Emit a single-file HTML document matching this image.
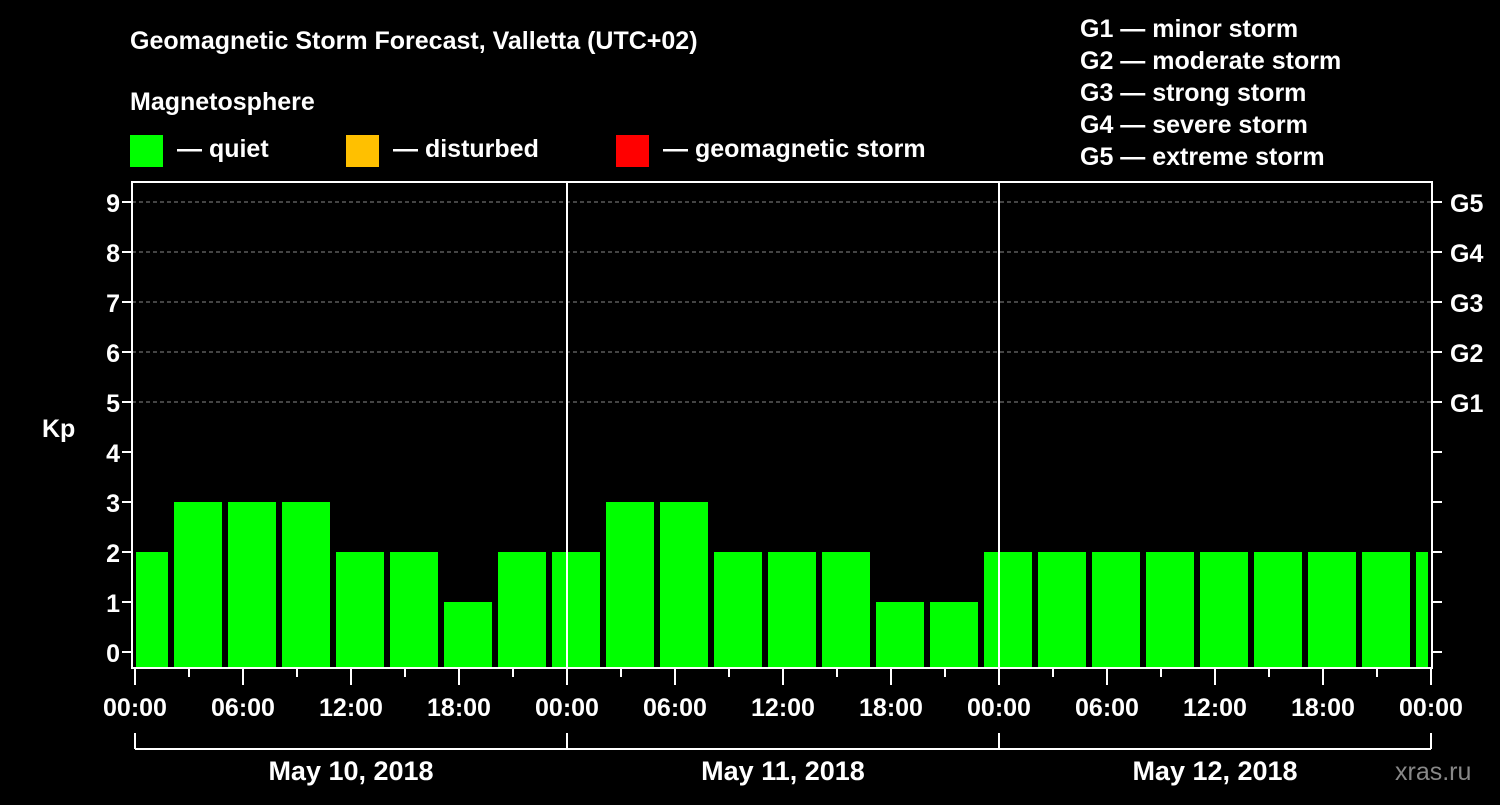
<!DOCTYPE html>
<html><head><meta charset="utf-8"><style>
body{margin:0;background:#000;}
svg text{font-family:"Liberation Sans",sans-serif;font-weight:bold;fill:#fff;}
</style></head><body>
<svg id="chart" width="1500" height="800" viewBox="0 0 1500 800">
<rect width="1500" height="800" fill="#000"/>
<text x="130" y="49" font-size="25">Geomagnetic Storm Forecast, Valletta (UTC+02)</text>
<text x="130" y="110" font-size="25">Magnetosphere</text>
<rect x="130" y="135" width="33" height="32" fill="#00ff00"/>
<text x="177" y="157" font-size="25">— quiet</text>
<rect x="346" y="135" width="33" height="32" fill="#ffc000"/>
<text x="393" y="157" font-size="25">— disturbed</text>
<rect x="616" y="135" width="33" height="32" fill="#ff0000"/>
<text x="663" y="157" font-size="25">— geomagnetic storm</text>
<g font-size="25">
<text x="1080" y="37">G1 — minor storm</text>
<text x="1080" y="69">G2 — moderate storm</text>
<text x="1080" y="101">G3 — strong storm</text>
<text x="1080" y="133">G4 — severe storm</text>
<text x="1080" y="165">G5 — extreme storm</text>
</g>
<text x="42" y="437" font-size="25">Kp</text>
<text x="1395" y="780" font-size="25" fill="#888" style="fill:#888;font-weight:normal">xras.ru</text>
<g id="grid"></g><g id="bars"></g><g id="axes"></g>
</svg>
<script>
const kpValues=[2,3,3,3,2,2,1,2,2,3,3,2,2,2,1,1,2,2,2,2,2,2,2,2,2];
const yTicks=[0,1,2,3,4,5,6,7,8,9];
const gLabels=["G1","G2","G3","G4","G5"];
const gLevels=[5,6,7,8,9];
const timeLabels=["00:00","06:00","12:00","18:00","00:00","06:00","12:00","18:00","00:00","06:00","12:00","18:00","00:00"];
const dayLabels=["May 10, 2018","May 11, 2018","May 12, 2018"];
const NS="http://www.w3.org/2000/svg";
const L=132,R=1432,T=182,B=668,X0=135,DAY=432;
const y=v=>652-50*v;
const xh=h=>X0+h*DAY/24;
function mk(p,tag,a){const e=document.createElementNS(NS,tag);for(const k in a)e.setAttribute(k,a[k]);document.getElementById(p).appendChild(e);return e;}
gLevels.forEach((g,i)=>{const e=mk('grid','line',{x1:L,x2:R,y1:y(g),y2:y(g),stroke:'#888','stroke-dasharray':'4 3','stroke-width':1});


const t=mk('axes','text',{x:1450,y:y(g)+10,'font-size':25});t.textContent=gLabels[i];

});
kpValues.forEach((v,i)=>{let x1=xh(i*3)-15,x2=x1+48;x1=Math.max(x1,L+4);x2=Math.min(x2,R-4);
const e=mk('bars','rect',{x:x1,y:y(v),width:x2-x1,height:B-y(v),fill:'#00ff00'});

});
const fr=mk('axes','rect',{x:L,y:T,width:R-L,height:B-T,fill:'none',stroke:'#fff','stroke-width':2});


[1,2].forEach(d=>{const e=mk('axes','line',{x1:xh(d*24),x2:xh(d*24),y1:T,y2:B,stroke:'#fff','stroke-width':2});

});
yTicks.forEach(v=>{mk('axes','line',{x1:L-10,x2:L,y1:y(v),y2:y(v),stroke:'#fff','stroke-width':2});
mk('axes','line',{x1:R,x2:R+10,y1:y(v),y2:y(v),stroke:'#fff','stroke-width':2});
const t=mk('axes','text',{x:L-12,y:y(v)+10,'font-size':25,'text-anchor':'end'});t.textContent=v;

});
for(let h=0;h<=72;h+=3){const big=h%6===0;mk('axes','line',{x1:xh(h),x2:xh(h),y1:B,y2:B+(big?17:9),stroke:'#fff','stroke-width':2});}
timeLabels.forEach((s,i)=>{const t=mk('axes','text',{x:xh(i*6),y:716,'font-size':25,'text-anchor':'middle'});t.textContent=s;

});
mk('axes','line',{x1:X0,x2:xh(72),y1:749,y2:749,stroke:'#fff','stroke-width':2});
for(let d=0;d<=3;d++)mk('axes','line',{x1:xh(d*24),x2:xh(d*24),y1:733,y2:749,stroke:'#fff','stroke-width':2});
dayLabels.forEach((s,i)=>{const t=mk('axes','text',{x:xh(i*24+12),y:780,'font-size':27,'text-anchor':'middle'});t.textContent=s;

});
</script>
</body></html>
